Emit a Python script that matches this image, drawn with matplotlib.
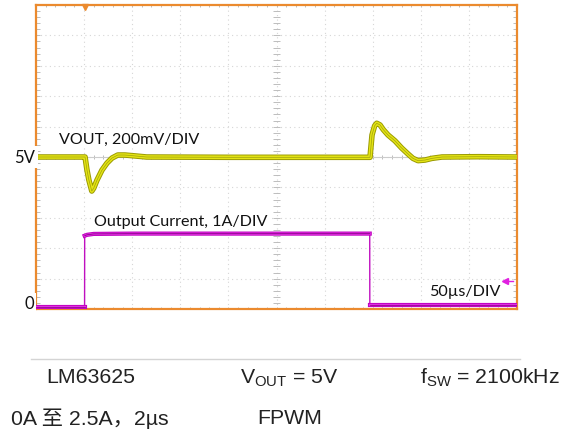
import numpy as np
import matplotlib.pyplot as plt

plt.rcParams['mathtext.fontset'] = 'custom'
plt.rcParams['mathtext.rm'] = 'Liberation Sans'

# scope settings
t_div = 50.0      # us per division
v_div = 0.2       # V per division
i_div = 1.0       # A per division
v_ref = 5.0       # VOUT reference at centre line
i_zero = 0.08     # current ground position in divisions

# VOUT trace (us, V)
t_vout = [0, 50, 51, 53, 55, 58, 60, 63.4, 68.6, 73.8, 79, 85, 92.5, 103, 115,
          200, 300, 347.2, 349.3, 352, 354.2, 357.6, 361, 365.9, 373.2, 380.1,
          386.7, 391.9, 397.1, 404.4, 411.6, 422, 460, 500]
vout = [5.0, 5.0, 5.0, 4.914, 4.848, 4.776, 4.795, 4.848, 4.914, 4.96, 4.993,
        5.013, 5.013, 5.007, 5.0,
        4.998, 4.998, 4.998, 5.145, 5.205, 5.222, 5.211, 5.18, 5.145, 5.106,
        5.059, 5.02, 4.991, 4.976, 4.98, 4.991, 5.0, 5.002, 5.0]

# output current trace (us, A)
t_iout = [0, 50.5, 50.6, 53, 60, 100, 200, 300, 346.9, 347.0, 400, 500]
iout = [0.0, 0.0, 2.33, 2.36, 2.39, 2.40, 2.40, 2.40, 2.40, 0.04, 0.04, 0.04]

labels_top = ['LM63625', r'V$_{\mathrm{OUT}}$ = 5V', r'f$_{\mathrm{SW}}$ = 2100kHz']
labels_bot = ['0A 至 2.5A，2µs', 'FPWM']

fig = plt.figure(figsize=(5.64, 4.31), dpi=100)
W, H = 564.0, 431.0
ax = fig.add_axes([36 / W, 1 - 310 / H, (517 - 36) / W, (310 - 6) / H])
ax.set_xlim(0, 10 * t_div)
ax.set_ylim(0, 10)
ax.set_xticks([])
ax.set_yticks([])
for s in ax.spines.values():
    s.set_color('#eb8a2e')
    s.set_linewidth(1.6)

# graticule
grid_c = '#d6d6d6'
for k in range(1, 10):
    ax.axvline(k * t_div, color=grid_c, lw=0.8, ls=(0, (1, 3)), zorder=1)
    ax.axhline(k, color=grid_c, lw=0.8, ls=(0, (1, 3)), zorder=1)
minor_x = np.arange(0, 10.01, 0.2) * t_div
minor_y = np.arange(0, 10.01, 0.2)
tk_y = 0.08
tk_x = 0.08 * t_div
tick_c = '#bdbdbd'
ax.vlines(minor_x, 10 - tk_y, 10, color=tick_c, lw=0.7, zorder=1)
ax.vlines(minor_x, 0, tk_y, color=tick_c, lw=0.7, zorder=1)
ax.vlines(minor_x, 5 - tk_y, 5 + tk_y, color=tick_c, lw=0.7, zorder=1)
ax.hlines(minor_y, 0, tk_x, color=tick_c, lw=0.7, zorder=1)
ax.hlines(minor_y, 10 * t_div - tk_x, 10 * t_div, color=tick_c, lw=0.7, zorder=1)
ax.hlines(minor_y, 5 * t_div - tk_x, 5 * t_div + tk_x, color=tick_c, lw=0.7, zorder=1)
ax.axhline(5, color='#cccccc', lw=0.8, zorder=1)

# traces
v_pos = 5 + (np.array(vout) - v_ref) / v_div
i_pos = i_zero + np.array(iout) / i_div
ax.plot(t_vout, v_pos, color='#9a9a00', lw=4.0, solid_joinstyle='round', zorder=3)
ax.plot(t_vout, v_pos, color='#e4e414', lw=2.6, solid_joinstyle='round', zorder=4)
ax.plot(t_vout, v_pos, color='#a0a010', lw=0.5, zorder=5)
# thin edges, thick flat levels
ax.plot(t_iout, i_pos, color='#c010c0', lw=1.0, zorder=3)
for a, b in [(0, 2), (2, 9), (9, 12)]:
    ax.plot(t_iout[a:b], i_pos[a:b], color='#c000c0', lw=3.0, zorder=3)
    ax.plot(t_iout[a:b], i_pos[a:b], color='#e030e0', lw=1.6, zorder=4)
    ax.plot(t_iout[a:b], i_pos[a:b], color='#800080', lw=0.5, zorder=5)

# markers
ax.plot([50.5], [9.93], marker='v', color='#eb8a2e', ms=5, clip_on=False, zorder=6)
ax.plot([488], [0.93], marker='<', color='#e020e0', ms=4, zorder=6)
ax.plot([488, 496], [0.93, 0.93], color='#e020e0', lw=1, zorder=6)

# scope labels
lab_font = dict(family='Lato', fontsize=11.6, color='#111111')
ax.text(24, 5.6, 'VOUT, 200mV/DIV', ha='left', va='center', zorder=7,
        bbox=dict(fc='white', ec='none', pad=1), **lab_font)
ax.text(60, 2.9, 'Output Current, 1A/DIV', ha='left', va='center', zorder=7,
        bbox=dict(fc='white', ec='none', pad=1), **lab_font)
ax.text(409, 0.6, '50µs/DIV', ha='left', va='center', zorder=7,
        bbox=dict(fc='white', ec='none', pad=1), **lab_font)
fig.text(35 / W, 1 - 158 / H, '5V', ha='right', va='center', fontsize=12,
         family='Lato', color='#111111', zorder=10,
         bbox=dict(fc='white', ec='none', pad=2))
fig.text(34 / W, 1 - 304 / H, '0', ha='right', va='center', fontsize=12,
         family='Lato', color='#111111', zorder=10,
         bbox=dict(fc='white', ec='none', pad=1.5))

# bottom caption
fig.add_artist(plt.Line2D([31 / W, 520 / W], [1 - 360 / H, 1 - 360 / H],
                          color='#d4d4d4', lw=1))
cap_font = dict(fontsize=15.3, color='#222222',
                family=['Liberation Sans', 'Noto Sans CJK SC'])
for x, s in zip([91, 289, 490], labels_top):
    fig.text(x / W, 1 - 378 / H, s, ha='center', va='center', **cap_font)
for x, s in zip([90, 290], labels_bot):
    fig.text(x / W, 1 - 419 / H, s, ha='center', va='center', **cap_font)

fig.savefig('out.png', dpi=100)
